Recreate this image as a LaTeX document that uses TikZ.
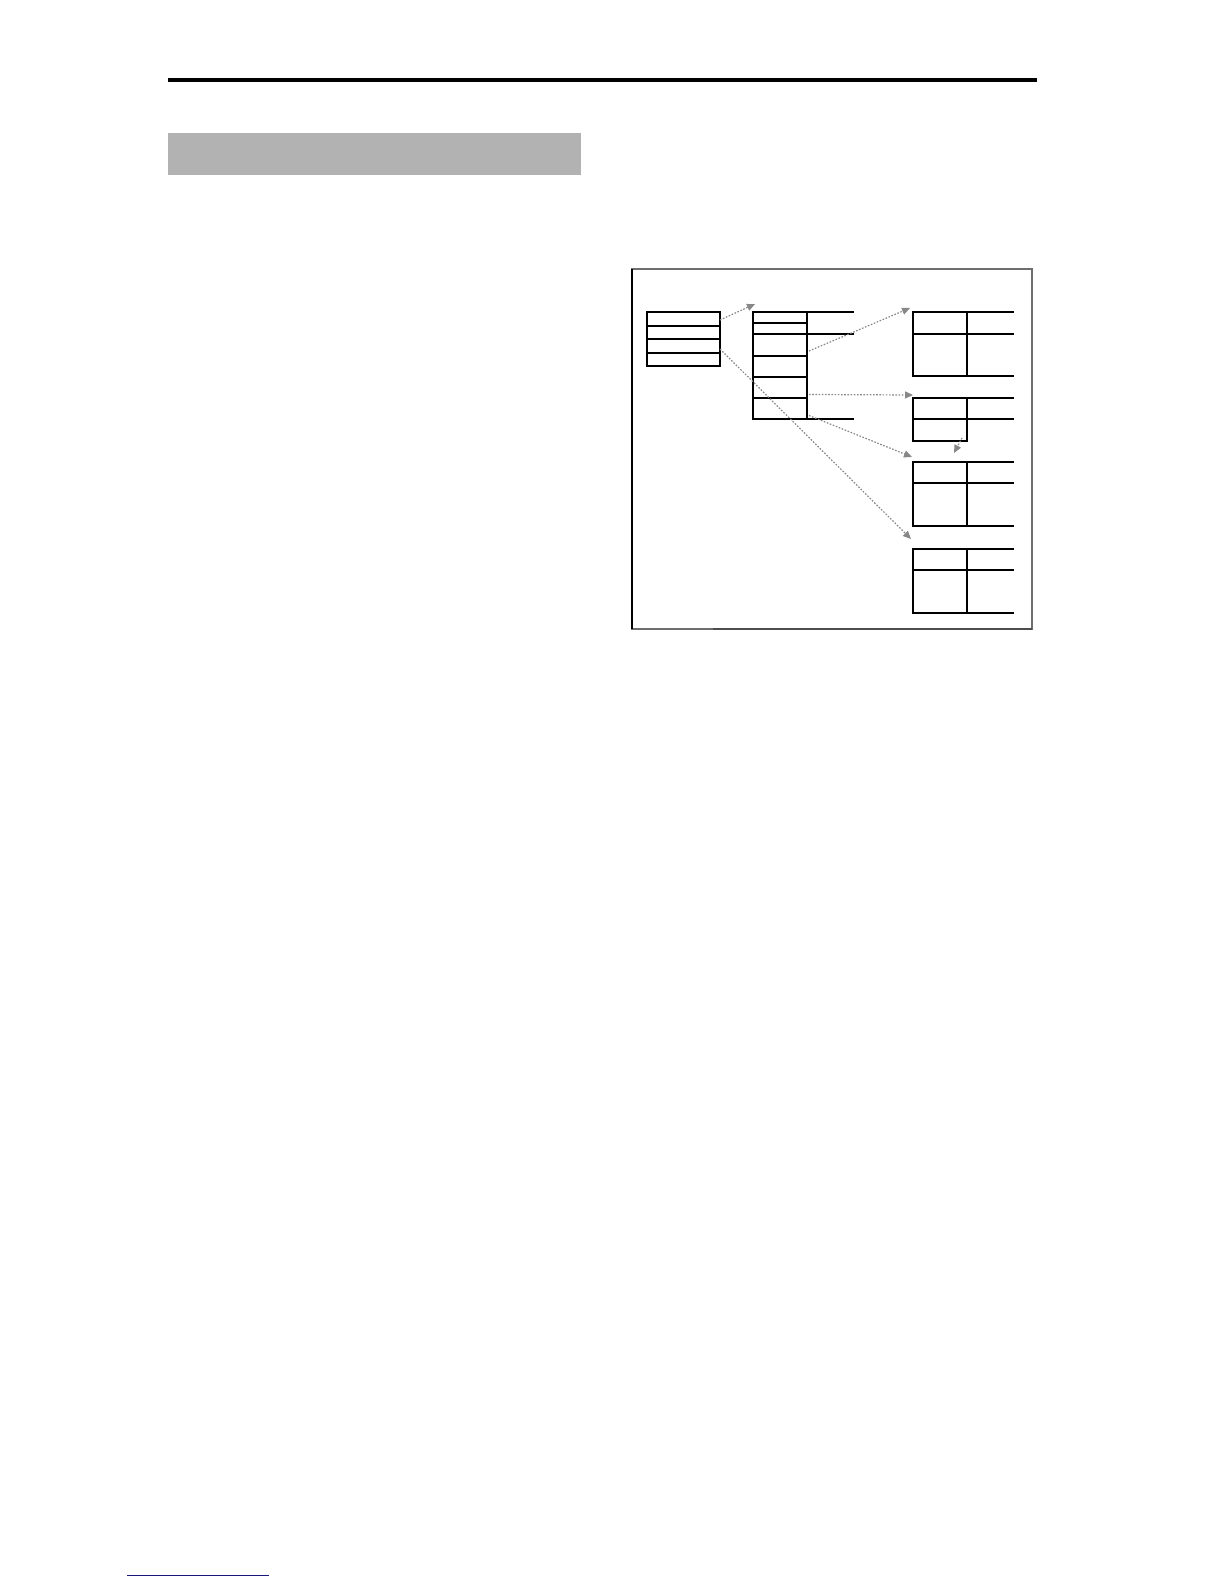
\documentclass[tikz,border=0pt]{standalone}
\usepackage{xcolor}
\usetikzlibrary{arrows.meta}
\definecolor{hdrgray}{RGB}{178,178,178}
\definecolor{framegray}{RGB}{110,110,110}
\definecolor{ptrgray}{RGB}{135,135,135}
\definecolor{footblue}{RGB}{25,25,125}

\tikzset{
  cell/.style={draw, line width=1.4pt, inner sep=0pt, outer sep=0pt, anchor=north west},
  tabline/.style={line width=1.4pt},
  ptr/.style={ptrgray, line width=1.2pt, dash pattern=on 1.6pt off 1.6pt,
    -{Triangle[length=8pt,width=7pt]}}
}

\begin{document}
\begin{tikzpicture}[x=1pt,y=-1pt]
\useasboundingbox (0,0) rectangle (1224,1584);

% page furniture
\fill (168,78) rectangle (1037,82);
\fill[hdrgray] (168,133) rectangle (581,175);
\draw[footblue, line width=1pt] (127,1575) -- (269,1575);

% frame round the diagram
\draw[framegray, line width=1.1pt] (632,629) -- (632,269) -- (1032,269) -- (1032,629) -- cycle;
\draw[black, line width=1.1pt] (632,269) -- (632,629);
\draw[framegray!70!black, line width=1.5pt] (713,629) -- (1032,629);

% left stack
\foreach \i/\t/\h in {1/312/14, 2/326/13, 3/339/14, 4/353/13} {
    \node[cell, minimum width=73pt, minimum height=\h pt] (a\i) at (647,\t) {};
}

% middle table, left column
\foreach \i/\t/\h in {1/312/11, 2/323/11, 3/334/22, 4/356/21, 5/377/21, 6/398/21} {
    \node[cell, minimum width=54pt, minimum height=\h pt] (b\i) at (753,\t) {};
}
% middle table, open right column
\draw[tabline] (b1.north east) -- ++(47,0);
\draw[tabline] (b3.north east) -- ++(47,0);
\draw[tabline] (b6.south east) -- ++(47,0);

% right tables
\foreach \n/\t/\ha/\hb in {1/312/22/42, 2/398/21/22, 3/462/21/43, 4/549/21/43} {
    \node[cell, minimum width=54pt, minimum height=\ha pt] (c\n h) at (913,\t) {};
    \node[cell, minimum width=54pt, minimum height=\hb pt] (c\n b) at (c\n h.south west) {};
    \draw[tabline] (c\n h.north east) -- ++(47,0);
    \draw[tabline] (c\n h.south east) -- ++(47,0);
}
\foreach \n in {1,3,4} {
    \draw[tabline] (c\n b.south east) -- ++(47,0);
}

% free ends of the pointers
\coordinate (bin) at (755,304);

% pointers
\draw[ptr] ([yshift=-1pt]a1.east) -- (bin);
\draw[ptr] ([yshift=-3pt]a3.east) -- ([shift={(-2pt,10pt)}]c4h.north west);
\draw[ptr] ([shift={(2pt,-6pt)}]b3.east) -- ([shift={(-3pt,4pt)}]c1h.north west);
\draw[ptr] ([shift={(2pt,-7pt)}]b5.east) -- ([yshift=3pt]c2h.north west);
\draw[ptr] ([shift={(2pt,-7pt)}]b6.east) -- ([shift={(-1pt,5pt)}]c3h.north west);
\draw[ptr] ([shift={(-5pt,3pt)}]c2b.south east) -- ([shift={(-13pt,9pt)}]c3h.north east);
\end{tikzpicture}
\end{document}
